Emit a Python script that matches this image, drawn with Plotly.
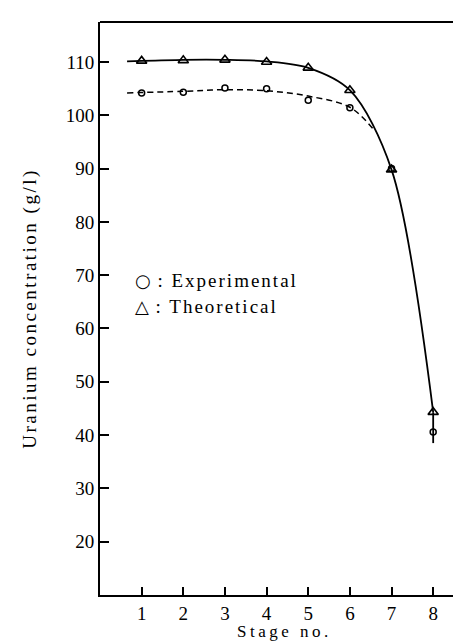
import plotly.graph_objects as go

stages = [1, 2, 3, 4, 5, 6, 7, 8]
experimental = [104.2, 104.3, 105.1, 105.0, 102.8, 101.4, 90.0, 40.6]
theoretical = [110.2, 110.3, 110.4, 110.0, 108.9, 104.7, 89.8, 44.3]

# smoothed curves
theo_curve_x = [0.65, 1, 2, 3, 4, 5, 6, 7, 8]
theo_curve_y = [110.1, 110.2, 110.4, 110.4, 110.1, 108.9, 104.7, 89.8, 44.3]
exp_curve_x = [0.65, 2, 3, 4, 5, 6, 6.55]
exp_curve_y = [104.2, 104.5, 104.8, 104.6, 103.6, 101.5, 97.5]
stage8_bar_x = [8, 8]
stage8_bar_y = [44.3, 38.5]

y_ticks = [20, 30, 40, 50, 60, 70, 80, 90, 100, 110]
x_ticks = [1, 2, 3, 4, 5, 6, 7, 8]

serif = "Liberation Serif, Times New Roman, serif"

fig = go.Figure()
fig.add_trace(go.Scatter(x=theo_curve_x, y=theo_curve_y, mode="lines",
                         line=dict(color="black", width=1.8, shape="spline", smoothing=0.9),
                         hoverinfo="skip", showlegend=False))
fig.add_trace(go.Scatter(x=exp_curve_x, y=exp_curve_y, mode="lines",
                         line=dict(color="black", width=1.5, dash="6px,4px", shape="spline"),
                         hoverinfo="skip", showlegend=False))
fig.add_trace(go.Scatter(x=stage8_bar_x, y=stage8_bar_y, mode="lines",
                         line=dict(color="black", width=1.8),
                         hoverinfo="skip", showlegend=False))
fig.add_trace(go.Scatter(x=stages, y=theoretical, mode="markers", name="Theoretical",
                         marker=dict(symbol="triangle-up-open", size=9, color="black",
                                     line=dict(width=1.6, color="black")),
                         showlegend=False))
fig.add_trace(go.Scatter(x=stages, y=experimental, mode="markers", name="Experimental",
                         marker=dict(symbol="circle-open", size=6, color="black",
                                     line=dict(width=1.5, color="black")),
                         showlegend=False))

sym = "<span style='font-family:DejaVu Sans;font-size:18px;letter-spacing:0px'>{}</span>"
fig.add_annotation(x=0.089, y=0.548, xref="paper", yref="paper", xanchor="left", yanchor="middle",
                   text="<span style='letter-spacing:2px'>" + sym.format("○") + " : Experimental</span>",
                   showarrow=False, font=dict(family=serif, size=19, color="black"))
fig.add_annotation(x=0.089, y=0.504, xref="paper", yref="paper", xanchor="left", yanchor="middle",
                   text="<span style='letter-spacing:2px'>" + sym.format("△") + " : Theoretical</span>",
                   showarrow=False, font=dict(family=serif, size=19, color="black"))
fig.add_annotation(x=0.5, y=0, xref="paper", yref="paper", xanchor="center", yanchor="middle",
                   yshift=-36, showarrow=False,
                   text="<span style='letter-spacing:3.5px'>Stage no.</span>",
                   font=dict(family=serif, size=17, color="black"))

fig.add_shape(type="line", xref="paper", yref="paper", x0=0, x1=1, y0=1, y1=1,
              line=dict(color="black", width=2))

fig.update_layout(
    width=461, height=642,
    margin=dict(l=92, r=0, t=14, b=55),
    plot_bgcolor="white", paper_bgcolor="white",
    font=dict(family=serif, color="black"),
    xaxis=dict(range=[0, 8.86], tickvals=x_ticks, ticks="inside", ticklen=8, tickwidth=1.5,
               tickcolor="black", showline=True, linecolor="black", linewidth=2,
               showgrid=False, zeroline=False, tickfont=dict(size=19, family=serif),
               automargin=False),
    yaxis=dict(range=[10, 117.5], tickvals=y_ticks, ticks="inside", ticklen=9, tickwidth=1.5,
               tickcolor="black", showline=True, linecolor="black", linewidth=2,
               showgrid=False, zeroline=False, tickfont=dict(size=19, family=serif),
               automargin=False,
               title=dict(text="<span style='letter-spacing:2.5px'>Uranium concentration (g/l)</span>",
                          font=dict(size=19, family=serif), standoff=24)),
)

fig.write_html("out.html")
